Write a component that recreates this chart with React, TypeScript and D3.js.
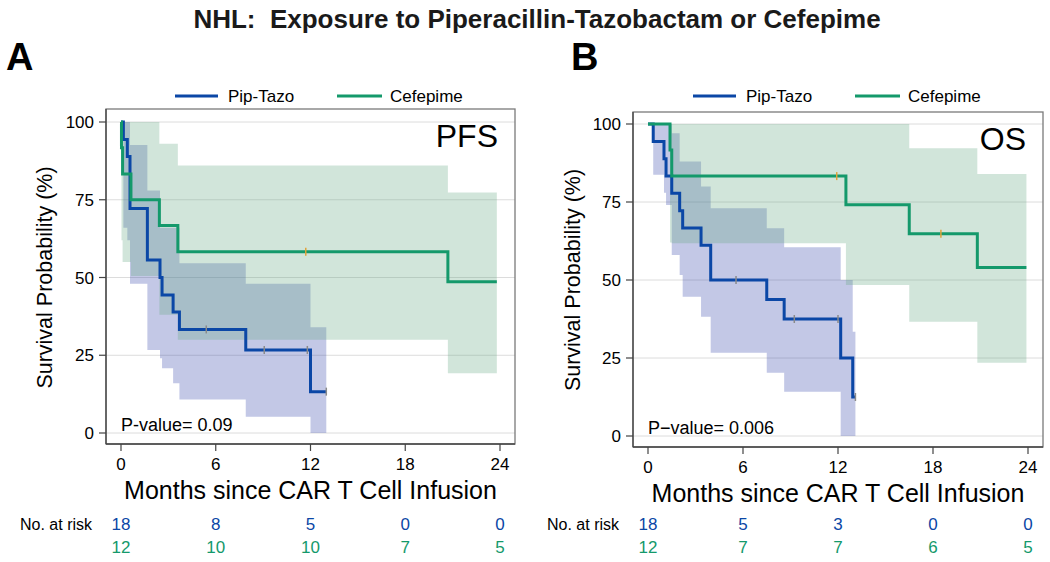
import React from 'react';
import * as d3 from 'd3';

// ---------- data ----------
const xTicks = [0, 6, 12, 18, 24];
const yTicks = [0, 25, 50, 75, 100];
const seriesNames = ['Pip-Tazo', 'Cefepime'];
const riskTimes = [0, 6, 12, 18, 24];

// Panel A – PFS, Pip-Tazo
const pfsPipTimes = [0.15, 0.4, 0.57, 1.67, 2.47, 2.6, 3.3, 3.7, 7.9, 12.0];
const pfsPipSurv = [94.4, 88.9, 72.2, 55.6, 50.0, 44.4, 38.9, 33.3, 26.7, 13.3];
const pfsPipLower = [66, 62, 48, 26.7, 24, 20.8, 16, 10.8, 5.2, 0];
const pfsPipUpper = [100, 100, 92.6, 78, 66, 66, 66, 54.6, 48, 34];
const pfsPipEnd = 13.0;
const pfsPipCensor = [5.4, 9.07, 11.8, 13.0];

// Panel A – PFS, Cefepime
const pfsCefTimes = [0.03, 0.1, 0.63, 2.43, 3.6, 20.7];
const pfsCefSurv = [91.7, 83.3, 75.0, 66.7, 58.3, 48.6];
const pfsCefLower = [62, 55, 50.5, 38, 30, 19.2];
const pfsCefUpper = [100, 100, 100, 93, 86, 77.3];
const pfsCefEnd = 23.8;
const pfsCefCensor = [11.7];

// Panel B – OS, Pip-Tazo
const osPipTimes = [0.33, 1.01, 1.14, 1.5, 2.0, 2.19, 3.35, 3.96, 7.5, 8.6, 12.17, 12.93];
const osPipSurv = [94.4, 88.9, 83.3, 77.8, 72.2, 66.7, 61.1, 50.0, 43.75, 37.5, 25.0, 12.5];
const osPipLower = [83.7, 78, 74, 58, 51.6, 44.6, 38.2, 26.7, 20.3, 14.2, 0, 0];
const osPipUpper = [100, 100, 100, 97, 88, 88, 80, 73, 66.6, 60.5, 50, 33.4];
const osPipEnd = 13.1;
const osPipCensor = [5.56, 9.24, 12.0, 13.1];

// Panel B – OS, Cefepime
const osCefTimes = [1.39, 1.5, 12.5, 16.5, 20.8];
const osCefSurv = [91.7, 83.3, 74.1, 64.8, 54.0];
const osCefLower = [62, 61.8, 48.4, 36.6, 23.5];
const osCefUpper = [100, 100, 100, 92.2, 84];
const osCefEnd = 23.9;
const osCefCensor = [11.92, 18.5];

// numbers at risk
const pfsRiskPip = [18, 8, 5, 0, 0];
const pfsRiskCef = [12, 10, 10, 7, 5];
const osRiskPip = [18, 5, 3, 0, 0];
const osRiskCef = [12, 7, 7, 6, 5];

// ---------- styling ----------
const FONT = '"Liberation Sans", Arial, Helvetica, sans-serif';
const BLUE = '#0b47a6';
const GREEN = '#14996b';
const BLUE_FILL = '#3748ac';
const GREEN_FILL = '#66a884';
const BLUE_CENSOR = '#8a8a8a';
const GREEN_CENSOR = '#e0a33a';

type Series = {
  times: number[]; surv: number[]; lower: number[]; upper: number[];
  end: number; censor: number[];
};

function buildSeries(times: number[], surv: number[], lower: number[], upper: number[], end: number, censor: number[]): Series {
  return { times, surv, lower, upper, end, censor };
}

function survAt(s: Series, t: number) {
  let v = 100;
  s.times.forEach((ti, i) => { if (ti <= t) v = s.surv[i]; });
  return v;
}

type PanelProps = {
  letter: string; label: string; pText: string;
  blue: Series; green: Series; riskBlue: number[]; riskGreen: number[];
  box: { left: number; right: number; top: number; bottom: number; x0: number; x24: number; y100: number; y0: number };
  legendX: number; letterX: number; riskLabelX: number; yTitleX: number;
};

function Panel(p: PanelProps) {
  const { box } = p;
  const x = d3.scaleLinear().domain([0, 24]).range([box.x0, box.x24]);
  const y = d3.scaleLinear().domain([0, 100]).range([box.y0, box.y100]);

  const line = d3.line<{ t: number; s: number }>()
    .x(d => x(d.t)).y(d => y(d.s)).curve(d3.curveStepAfter);
  const area = d3.area<{ t: number; lo: number; hi: number }>()
    .x(d => x(d.t)).y0(d => y(d.lo)).y1(d => y(d.hi)).curve(d3.curveStepAfter);

  const linePts = (s: Series) => {
    const pts = [{ t: 0, s: 100 }];
    s.times.forEach((t, i) => pts.push({ t, s: s.surv[i] }));
    pts.push({ t: s.end, s: s.surv[s.surv.length - 1] });
    return pts;
  };
  const areaPts = (s: Series) => {
    const pts = s.times.map((t, i) => ({ t, lo: s.lower[i], hi: s.upper[i] }));
    const n = s.times.length - 1;
    pts.push({ t: s.end, lo: s.lower[n], hi: s.upper[n] });
    return pts;
  };

  const midX = (box.x0 + box.x24) / 2;
  const midY = (box.y0 + box.y100) / 2;

  return (
    <g>
      {/* panel letter */}
      <text x={p.letterX} y={70} fontFamily={FONT} fontWeight="bold" fontSize={38} fill="#000">{p.letter}</text>

      {/* legend */}
      <line x1={p.legendX} x2={p.legendX + 43} y1={96} y2={96} stroke={BLUE} strokeWidth={3} />
      <text x={p.legendX + 53} y={102} fontFamily={FONT} fontSize={17} fill="#000">{seriesNames[0]}</text>
      <line x1={p.legendX + 162} x2={p.legendX + 207} y1={96} y2={96} stroke={GREEN} strokeWidth={3} />
      <text x={p.legendX + 215} y={102} fontFamily={FONT} fontSize={17} fill="#000">{seriesNames[1]}</text>

      {/* gridlines */}
      {yTicks.map(v => (
        <line key={'g' + v} x1={box.left} x2={box.right} y1={y(v)} y2={y(v)} stroke="#dcdcdc" strokeWidth={1} />
      ))}

      {/* confidence bands */}
      <path d={area(areaPts(p.blue)) || ''} fill={BLUE_FILL} fillOpacity={0.3} />
      <path d={area(areaPts(p.green)) || ''} fill={GREEN_FILL} fillOpacity={0.3} />

      {/* KM curves */}
      <path d={line(linePts(p.blue)) || ''} fill="none" stroke={BLUE} strokeWidth={3} />
      <path d={line(linePts(p.green)) || ''} fill="none" stroke={GREEN} strokeWidth={3} />

      {/* censor marks */}
      {p.blue.censor.map((t, i) => (
        <line key={'cb' + i} x1={x(t)} x2={x(t)} y1={y(survAt(p.blue, t)) - 4} y2={y(survAt(p.blue, t)) + 4} stroke={BLUE_CENSOR} strokeWidth={1.5} />
      ))}
      {p.green.censor.map((t, i) => (
        <line key={'cg' + i} x1={x(t)} x2={x(t)} y1={y(survAt(p.green, t)) - 4} y2={y(survAt(p.green, t)) + 4} stroke={GREEN_CENSOR} strokeWidth={1.5} />
      ))}

      {/* frame */}
      <rect x={box.left} y={box.top} width={box.right - box.left} height={box.bottom - box.top} fill="none" stroke="#7a7a7a" strokeWidth={1.3} />
      <line x1={box.left} x2={box.left} y1={box.top} y2={box.bottom} stroke="#444" strokeWidth={1.3} />
      <line x1={box.left} x2={box.right} y1={box.bottom} y2={box.bottom} stroke="#444" strokeWidth={1.3} />

      {/* y axis */}
      {yTicks.map(v => (
        <g key={'y' + v}>
          <line x1={box.left - 7} x2={box.left} y1={y(v)} y2={y(v)} stroke="#444" strokeWidth={1.2} />
          <text x={box.left - 12} y={y(v) + 6} textAnchor="end" fontFamily={FONT} fontSize={17} fill="#000">{v}</text>
        </g>
      ))}
      <text transform={`translate(${p.yTitleX},${midY}) rotate(-90)`} textAnchor="middle" fontFamily={FONT} fontSize={21.5} fill="#000">Survival Probability (%)</text>

      {/* x axis */}
      {xTicks.map(v => (
        <g key={'x' + v}>
          <line x1={x(v)} x2={x(v)} y1={box.bottom} y2={box.bottom + 7} stroke="#444" strokeWidth={1.2} />
          <text x={x(v)} y={box.bottom + 26} textAnchor="middle" fontFamily={FONT} fontSize={17} fill="#000">{v}</text>
        </g>
      ))}
      <text x={midX} y={box.bottom + 55} textAnchor="middle" fontFamily={FONT} fontSize={25} fill="#000">Months since CAR T Cell Infusion</text>

      {/* annotations */}
      <text x={box.right - 17} y={box.top + 38} textAnchor="end" fontFamily={FONT} fontSize={32} fill="#000">{p.label}</text>
      <text x={box.x0} y={box.y0 - 2} fontFamily={FONT} fontSize={18} fill="#000">{p.pText}</text>

      {/* number at risk */}
      <text x={p.riskLabelX} y={530} fontFamily={FONT} fontSize={16} fill="#000">No. at risk</text>
      {riskTimes.map((t, i) => (
        <g key={'r' + i}>
          <text x={x(t)} y={530} textAnchor="middle" fontFamily={FONT} fontSize={17} fill={BLUE}>{p.riskBlue[i]}</text>
          <text x={x(t)} y={553} textAnchor="middle" fontFamily={FONT} fontSize={17} fill={GREEN}>{p.riskGreen[i]}</text>
        </g>
      ))}
    </g>
  );
}

export default function App() {
  const pfsBlue = buildSeries(pfsPipTimes, pfsPipSurv, pfsPipLower, pfsPipUpper, pfsPipEnd, pfsPipCensor);
  const pfsGreen = buildSeries(pfsCefTimes, pfsCefSurv, pfsCefLower, pfsCefUpper, pfsCefEnd, pfsCefCensor);
  const osBlue = buildSeries(osPipTimes, osPipSurv, osPipLower, osPipUpper, osPipEnd, osPipCensor);
  const osGreen = buildSeries(osCefTimes, osCefSurv, osCefLower, osCefUpper, osCefEnd, osCefCensor);

  return (
    <svg width={1050} height={562} style={{ position: 'absolute', left: 0, top: 0, background: '#fff' }}>
      <rect x={0} y={0} width={1050} height={562} fill="#fff" />
      <text x={537} y={28} textAnchor="middle" fontFamily={FONT} fontWeight="bold" fontSize={26} fill="#1a1a1a" style={{ whiteSpace: 'pre' }}>NHL:  Exposure to Piperacillin-Tazobactam or Cefepime</text>
      <Panel letter="A" label="PFS" pText="P-value= 0.09" blue={pfsBlue} green={pfsGreen}
        riskBlue={pfsRiskPip} riskGreen={pfsRiskCef}
        box={{ left: 106, right: 515, top: 109, bottom: 444, x0: 121, x24: 500, y100: 122, y0: 433 }}
        legendX={175} letterX={6} riskLabelX={20} yTitleX={52} />
      <Panel letter="B" label="OS" pText="P−value= 0.006" blue={osBlue} green={osGreen}
        riskBlue={osRiskPip} riskGreen={osRiskCef}
        box={{ left: 633, right: 1043, top: 112, bottom: 447, x0: 648, x24: 1028, y100: 124, y0: 436 }}
        legendX={693} letterX={571} riskLabelX={547} yTitleX={580} />
    </svg>
  );
}
